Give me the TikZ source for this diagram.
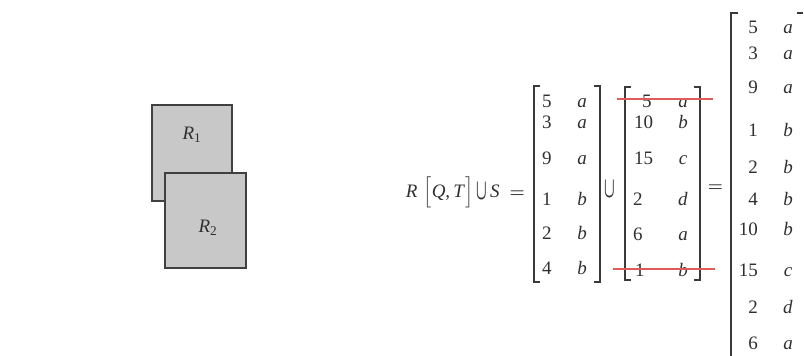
\documentclass[tikz,border=0pt]{standalone}
\usepackage{amsmath}
\usepackage{graphicx}
\usepackage{fontspec}
\setmainfont{Liberation Serif}
\definecolor{boxline}{HTML}{404040}
\definecolor{boxfill}{HTML}{C8C8C8}
\definecolor{brkcol}{HTML}{3A3A3A}
\definecolor{strikered}{HTML}{E05A5A}
\definecolor{txt}{HTML}{303030}
\newcommand{\tallcup}{\scalebox{0.8}[1.7]{$\boldsymbol{\cup}$}}
\begin{document}
\begin{tikzpicture}[x=1pt,y=-1pt,
  relbox/.style={draw=boxline,fill=boxfill,line width=1.2pt,inner sep=0pt},
  brk/.style={draw=brkcol,line width=1.3pt},
  ent/.style={font=\fontsize{19}{23}\selectfont,inner sep=0pt,text=txt},
  lbl/.style={font=\fontsize{19}{23}\selectfont,inner sep=0pt,text=txt},
  frm/.style={font=\fontsize{19}{23}\selectfont,inner sep=0pt,text=txt},
  strike/.style={draw=strikered,line width=1.2pt}]
\path[use as bounding box,fill=white] (0,0) rectangle (804,356);

% relations
\node[relbox,minimum width=80pt,minimum height=96pt] (r1) at (192,153) {};
\node[lbl] (r1l) at (192,135) {\textit{R}$_{\text{1}}$};
\node[relbox,minimum width=81pt,minimum height=95pt] (r2) at (205.5,220.5) {};
\node[lbl] (r2l) at (208,228) {\textit{R}$_{\text{2}}$};

% formula
\node[frm,anchor=base east] (form) at (525,197) {\textit{R}\hspace{6pt}$\Big[$\textit{Q},\,\textit{T}$\Big]$\,\raisebox{-2.5pt}{\tallcup}\,\textit{S}\hspace{10pt}$\boldsymbol{=}$};

% matrix 1
\draw[brk] (540,86) -- (534,86) -- (534,282) -- (540,282);
\draw[brk] (594,86) -- (600,86) -- (600,282) -- (594,282);
\foreach \n/\l/\y [count=\i] in {5/a/101.5,3/a/122,9/a/158,1/b/199,2/b/233,4/b/268} {
  \node[ent,anchor=base west] (ma\i) at (542,{\y+6.4}) {\n};
  \node[ent,anchor=base] (mb\i) at (582,{\y+6.4}) {\textit{\l}};
}

% union
\node[lbl] (un) at (610,189) {\tallcup};

% matrix 2
\draw[brk] (631,87) -- (625,87) -- (625,280) -- (631,280);
\draw[brk] (694,87) -- (700,87) -- (700,280) -- (694,280);
\foreach \n/\l/\y/\x [count=\i] in {5/a/101/642,10/b/122/634,15/c/158/634,2/d/199/633,6/a/234/633,1/b/270/635} {
  \node[ent,anchor=base west] (na\i) at (\x,{\y+6.4}) {\n};
  \node[ent,anchor=base] (nb\i) at (683,{\y+6.4}) {\textit{\l}};
}
\draw[strike] (617,99) -- (713,99);
\draw[strike] (613,269) -- (715,269);

% equals
\node[frm] (eq) at (715.5,188.5) {$\boldsymbol{=}$};

% result matrix
\draw[brk] (738,13) -- (731,13) -- (731,360);
\draw[brk] (797,13) -- (803,13);
\foreach \n/\l/\y [count=\i] in {5/a/27,3/a/53,9/a/87,1/b/130,2/b/167,4/b/199,10/b/229,15/c/270,2/d/307,6/a/343} {
  \node[ent,anchor=base east] (ra\i) at (758,{\y+6.4}) {\n};
  \node[ent,anchor=base] (rb\i) at (788,{\y+6.4}) {\textit{\l}};
}
\end{tikzpicture}
\end{document}
